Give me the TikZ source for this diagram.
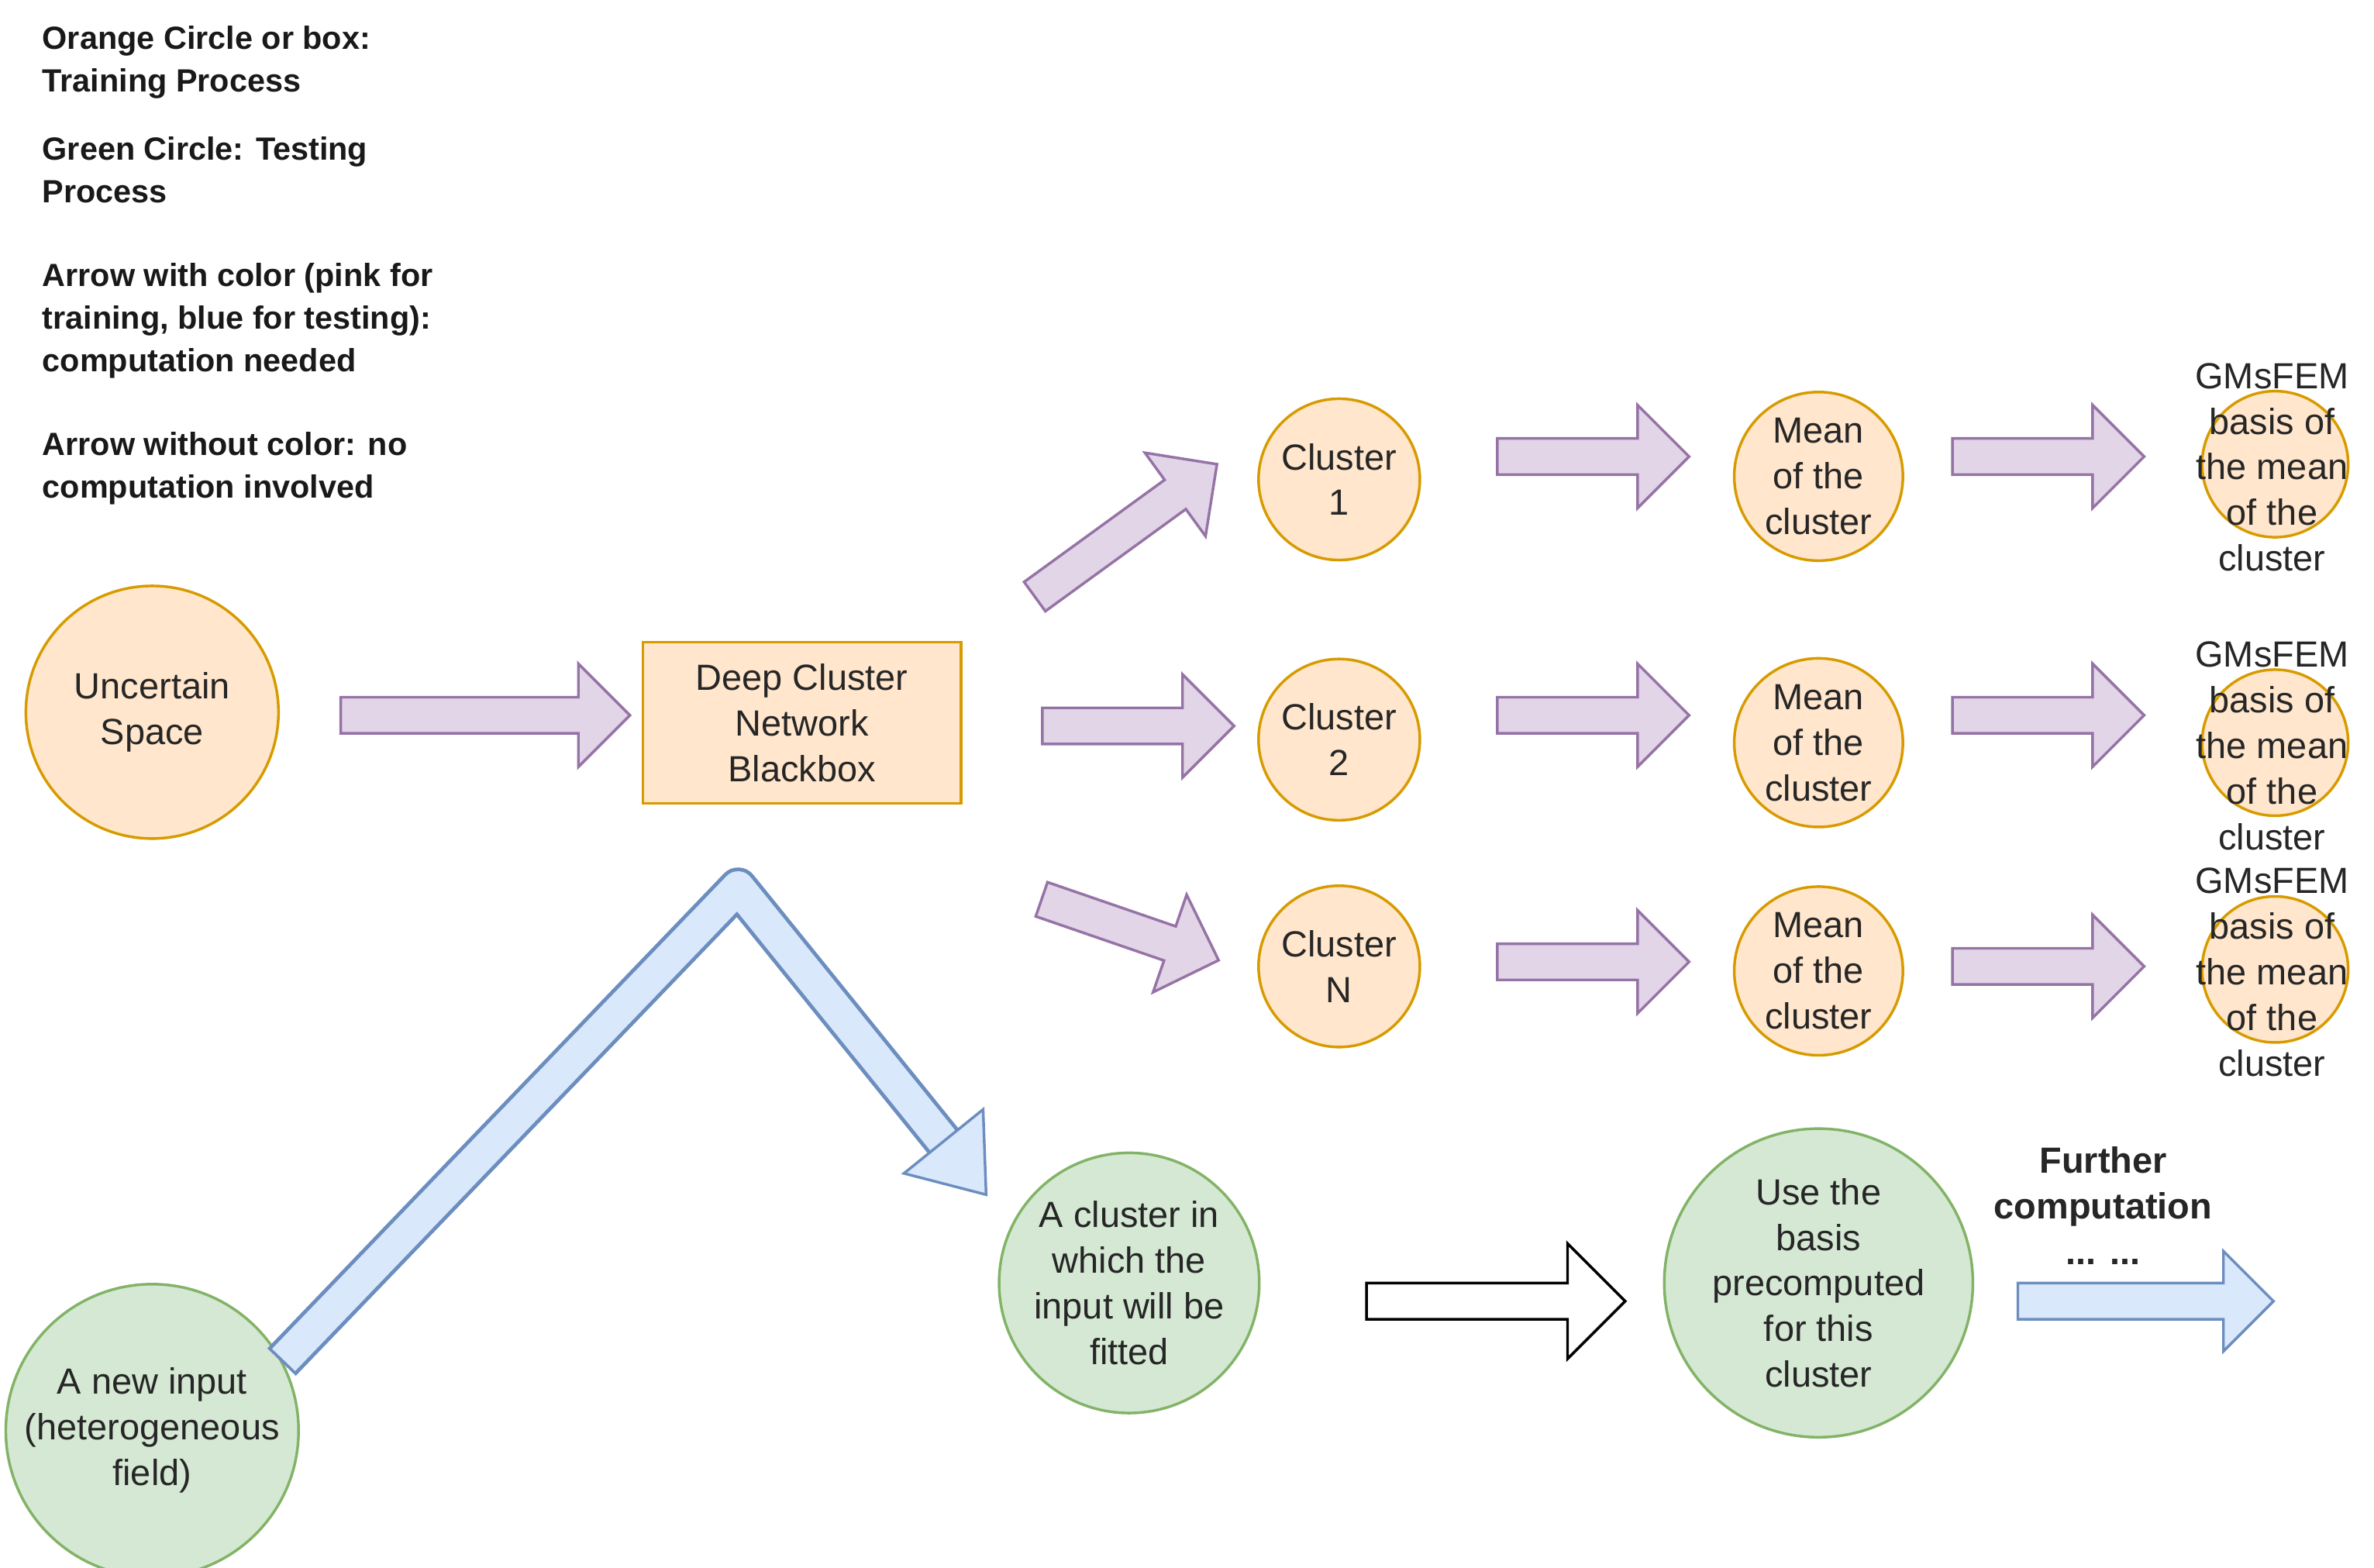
\documentclass[tikz,border=0pt]{standalone}
\usepackage{fontspec}
\setmainfont{Liberation Sans}
\usetikzlibrary{shapes.arrows}
\definecolor{ofill}{HTML}{FFE6CC}\definecolor{odraw}{HTML}{D79B00}
\definecolor{gfill}{HTML}{D5E8D4}\definecolor{gdraw}{HTML}{82B366}
\definecolor{pfill}{HTML}{E1D5E7}\definecolor{pdraw}{HTML}{9673A6}
\definecolor{bfill}{HTML}{DAE8FC}\definecolor{bdraw}{HTML}{6C8EBF}
\begin{document}
\begin{tikzpicture}[x=0.05cm,y=-0.05cm,line width=2.5pt,
 txt/.style={font=\fontsize{34}{42.7}\selectfont,align=center,text=black!85},
 oc/.style={circle,draw=odraw,fill=ofill,txt},
 gc/.style={circle,draw=gdraw,fill=gfill,txt},
 farr/.style={single arrow,inner sep=0pt,inner ysep=0.55cm,single arrow head extend=1.1cm,anchor=center},
 parr/.style={farr,draw=pdraw,fill=pfill},
 leg/.style={font=\bfseries\fontsize{30}{40}\selectfont,align=left,anchor=north west,inner sep=0pt,text=black!90}]
\useasboundingbox[fill=white] (0,0) rectangle (1560,1030);
% legend
\node[leg] (l1) at (27,16) {Orange Circle or box:\\Training Process};
\node[leg] (l2) at (27,89) {Green Circle: Testing\\Process};
\node[leg] (l3) at (27,172) {Arrow with color (pink for\\training, blue for testing):\\computation needed};
\node[leg] (l4) at (27,283) {Arrow without color: no\\computation involved};
% main nodes
\node[oc,minimum size=8.3cm] (us) at (100,468) {Uncertain\\Space};
\node[draw=odraw,fill=ofill,txt,minimum width=10.45cm,minimum height=5.3cm] (bb) at (527,475) {Deep Cluster\\Network\\Blackbox};
\node[oc,minimum size=5.3cm] (c1) at (880,315) {Cluster\\1};
\node[oc,minimum size=5.3cm] (c2) at (880,486) {Cluster\\2};
\node[oc,minimum size=5.3cm] (cn) at (880,635) {Cluster\\N};
\foreach \n/\y in {1/313,2/488,3/638}{
 \node[oc,minimum size=4.8cm] (m\n) at (1195,\y) {Mean\\of the\\cluster};}
\foreach \n/\y in {1/305,2/488,3/637}{
 \node[oc,minimum size=4.8cm] (g\n) at (1495,\y) {};
 \node[txt] (gt\n) at (1493,\y+2) {GMsFEM\\basis of\\the mean\\of the\\cluster};}
% pink arrows
\node[parr,minimum height=9.5cm] (a0) at (313,470) {};
\node[parr,minimum height=7.4cm,rotate=36] (a1) at (735,352) {};
\node[parr,minimum height=6.3cm] (a2) at (742,477) {};
\node[parr,minimum height=6.15cm,rotate=-19] (a3) at (737,609) {};
\node[parr,minimum height=6.3cm] (r11) at (1041,300) {};
\node[parr,minimum height=6.3cm] (r21) at (1041,470) {};
\node[parr,minimum height=6.3cm] (r31) at (1041,632) {};
\node[parr,minimum height=6.3cm] (r12) at (1340,300) {};
\node[parr,minimum height=6.3cm] (r22) at (1340,470) {};
\node[parr,minimum height=6.3cm] (r32) at (1340,635) {};
% testing
\node[gc,minimum size=8.5cm] (ni) at (100,940) {A new input\\(heterogeneous\\field)};
\node[gc,minimum size=7.5cm] (ci) at (742,843) {A cluster in\\which the\\input will be\\fitted};
\node[gc,minimum size=7.5cm] (ub) at (1195,843) {Use the\\basis\\precomputed\\for this\\cluster};
\node[farr,draw=black,fill=white,minimum height=8.5cm,single arrow head extend=1.3cm] (wa) at (977,855) {};
\node[farr,draw=bdraw,fill=bfill,minimum height=8.4cm,single arrow head extend=1.05cm] (fa) at (1404,855) {};
\node[txt,font=\bfseries\fontsize{34}{42.7}\selectfont] (fc) at (1382,792) {Further\\computation\\... ...};
% blue V arrow
\coordinate (v0) at (185,895); \coordinate (v1) at (485,583); \coordinate (v2) at (620,750);
\draw[bdraw,line width=1.3cm,line join=round] (v0)--(v1)--(v2);
\draw[bfill,line width=1.05cm,line join=round,shorten <=0.1cm] (v0)--(v1)--(v2);
\draw[draw=bdraw,fill=bfill,line join=miter] (648,785)--(646,729)--(594,771)--cycle;
\end{tikzpicture}
\end{document}
